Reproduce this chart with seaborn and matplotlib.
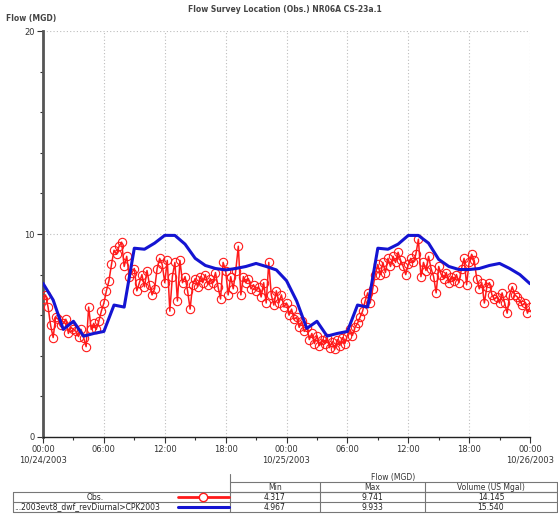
import matplotlib
matplotlib.use("Agg")
import matplotlib.pyplot as plt
import matplotlib.dates as mdates
from matplotlib.lines import Line2D
import seaborn as sns
import numpy as np
import pandas as pd

# observed flow (MGD), 15-minute readings from 10/24/2003 00:00
obs_flow = [
    6.8, 7.0, 6.4, 5.5, 4.9, 5.9, 5.8, 5.5, 5.6, 5.8, 5.1, 5.4, 5.3, 5.2, 4.95, 5.3,
    4.9, 4.45, 6.4, 5.3, 5.6, 5.3, 5.7, 6.2, 6.6, 7.2, 7.7, 8.5, 9.2, 9.0, 9.4, 9.6,
    8.4, 8.9, 7.9, 8.1,
    8.3, 7.2, 7.6, 8.0, 7.4, 8.2, 7.5, 7.0, 7.3, 8.3, 8.8, 8.5, 7.6, 8.7, 6.2, 7.9,
    8.6, 6.7, 8.7, 7.6, 7.9, 7.2, 6.3, 7.5, 7.8, 7.4, 7.9, 7.6, 8.0, 7.5, 7.8, 7.6,
    8.1, 7.4, 6.8, 8.6, 8.2,
    7.0, 7.9, 7.3, 8.2, 9.4, 7.0, 7.9, 7.6, 7.8, 7.3, 7.5, 7.2, 7.4, 6.9, 7.6, 6.6,
    8.6, 7.0, 6.5, 7.2, 6.6, 7.0, 6.4, 6.6, 6.0, 6.3, 5.8, 5.9, 5.4, 5.7, 5.2, 5.4,
    4.8, 5.1, 4.6, 5.0, 4.5, 4.8,
    4.6, 4.9, 4.4, 4.7, 4.317, 4.8, 4.5, 4.9, 4.6, 5.0, 5.3, 5.0, 5.4, 5.6, 5.9, 6.2,
    6.7, 7.1, 6.6, 7.3, 8.0, 8.5, 8.0, 8.6, 8.1, 8.8, 8.4, 8.9, 8.6, 9.1, 8.7, 8.4,
    8.0, 8.5, 8.8, 8.6, 9.0, 9.741,
    7.9, 8.6, 8.2, 8.9, 8.3, 7.9, 7.1, 8.4, 8.0, 7.8, 8.1, 7.6, 7.9, 7.7, 8.0, 7.6,
    8.3, 8.8, 7.5, 8.6, 9.0, 8.7, 7.8, 7.3, 7.6, 6.6, 7.4, 7.6, 7.0, 6.8, 6.9, 6.6,
    7.1, 6.6, 6.1, 7.0, 7.4, 7.0, 6.9, 6.7, 6.5, 6.6, 6.1, 6.4,
]

# modelled flow (MGD), hourly
model_flow = [
    7.57, 6.75, 5.3, 5.7, 4.967, 5.1, 5.2, 6.5, 6.4, 9.3, 9.25, 9.55, 9.933, 9.93,
    9.5, 8.8, 8.45, 8.3, 8.23, 8.3, 8.4, 8.55, 8.4, 8.23, 7.7, 6.7, 5.35, 5.7, 4.97,
    5.1, 5.2, 6.5, 6.4, 9.3, 9.25, 9.5, 9.93, 9.93, 9.55, 8.75, 8.4, 8.25, 8.25,
    8.3, 8.45, 8.55, 8.3, 8.0, 7.55,
]

series_names = ["Obs.", "...2003evt8_dwf_revDiurnal>CPK2003"]
stat_headers = ["Min", "Max", "Volume (US Mgal)"]
stat_values = [["4.317", "9.741", "14.145"], ["4.967", "9.933", "15.540"]]

start = pd.Timestamp("2003-10-24 00:00")
obs_df = pd.DataFrame({"time": pd.date_range(start, periods=len(obs_flow), freq="15min"),
                       "flow": obs_flow})
model_df = pd.DataFrame({"time": pd.date_range(start, periods=len(model_flow), freq="h"),
                         "flow": model_flow})

sns.set_style("white")
plt.rcParams["font.family"] = ["DejaVu Sans"]

red = "#ff1a1a"
blue = "#1414d2"

fig = plt.figure(figsize=(5.58, 5.15), dpi=100)
ax = fig.add_axes([43 / 558, 1 - 437 / 515, 487 / 558, 406 / 515])

sns.lineplot(data=obs_df, x="time", y="flow", ax=ax, color=red, lw=1.1,
             marker="o", markersize=6, markerfacecolor="none",
             markeredgecolor=red, markeredgewidth=0.8, zorder=3)
sns.lineplot(data=model_df, x="time", y="flow", ax=ax, color=blue, lw=2.2, zorder=4)

ax.set_xlim(start, start + pd.Timedelta(hours=48))
ax.set_ylim(0, 20)
ax.set_xlabel("")
ax.set_ylabel("")

ax.xaxis.set_major_locator(mdates.HourLocator(byhour=[0, 6, 12, 18]))
ax.xaxis.set_minor_locator(mdates.HourLocator(byhour=[3, 9, 15, 21]))


def fmt_time(x, pos=None):
    d = mdates.num2date(x)
    if d.hour == 0:
        return d.strftime("%H:%M") + "\n" + d.strftime("%m/%d/%Y")
    return d.strftime("%H:%M")


ax.xaxis.set_major_formatter(plt.FuncFormatter(fmt_time))
ax.set_yticks([0, 10, 20])
ax.set_yticks(np.arange(0, 21, 2), minor=True)

ax.tick_params(axis="both", which="major", labelsize=6, length=4, width=0.8,
               color="#333333", labelcolor="#333333", pad=2, direction="out",
               left=True, bottom=True)
ax.tick_params(axis="both", which="minor", length=2.5, width=0.8, color="#333333",
               left=True, bottom=True)
for lab in ax.get_xticklabels():
    lab.set_horizontalalignment("center")

ax.grid(True, which="major", axis="both", color="#bdbdbd", linestyle=(0, (1, 2)), lw=0.8)
for side in ["top", "right"]:
    ax.spines[side].set_visible(False)
ax.spines["left"].set_color("#555555")
ax.spines["left"].set_linewidth(2.0)
ax.spines["bottom"].set_color("#222222")
ax.spines["bottom"].set_linewidth(1.0)

fig.text(285 / 558, 1 - 10 / 515, "Flow Survey Location (Obs.) NR06A CS-23a.1",
         ha="center", va="center", fontsize=5.5, fontweight="bold", color="#444444")
fig.text(6 / 558, 1 - 18 / 515, "Flow (MGD)", ha="left", va="center",
         fontsize=5.5, fontweight="bold", color="#444444")

# statistics table under the chart
W, H = 558.0, 515.0


def fx(x):
    return x / W


def fy(y):
    return 1 - y / H


def hline(x0, x1, y, c="#777777", lw=0.8):
    fig.add_artist(Line2D([fx(x0), fx(x1)], [fy(y), fy(y)], color=c, lw=lw))


def vline(x, y0, y1, c="#777777", lw=0.8):
    fig.add_artist(Line2D([fx(x), fx(x)], [fy(y0), fy(y1)], color=c, lw=lw))


col_x = [230, 320, 425, 557]
rows_y = [474, 482, 492, 502, 512]
hline(230, 557, rows_y[1])
hline(230, 557, rows_y[2])
hline(13, 557, rows_y[2])
hline(13, 557, rows_y[3])
hline(13, 557, rows_y[4])
vline(230, rows_y[0], rows_y[4])
vline(13, rows_y[2], rows_y[4])
vline(557, rows_y[1], rows_y[4])
for cx in col_x[1:3]:
    vline(cx, rows_y[1], rows_y[4])

fs = 5.5
fig.text(fx(393), fy(477.5), "Flow (MGD)", ha="center", va="center", fontsize=fs, color="#333333")
for i, h in enumerate(stat_headers):
    fig.text(fx((col_x[i] + col_x[i + 1]) / 2), fy(487), h, ha="center", va="center",
             fontsize=fs, color="#333333")
for r, vals in enumerate(stat_values):
    yc = (rows_y[2 + r] + rows_y[3 + r]) / 2
    for i, v in enumerate(vals):
        fig.text(fx((col_x[i] + col_x[i + 1]) / 2), fy(yc), v, ha="center", va="center",
                 fontsize=fs, color="#222222")

fig.text(fx(95), fy(497), series_names[0], ha="center", va="center", fontsize=fs, color="#222222")
fig.text(fx(14), fy(507), series_names[1], ha="left", va="center", fontsize=fs, color="#222222")
fig.add_artist(Line2D([fx(178), fx(229)], [fy(497), fy(497)], color=red, lw=2))
fig.add_artist(Line2D([fx(203)], [fy(497)], color=red, marker="o", markersize=6,
                      markerfacecolor="white", markeredgewidth=1))
fig.add_artist(Line2D([fx(178), fx(229)], [fy(507), fy(507)], color=blue, lw=2.2))

fig.savefig("out.png", dpi=100)
